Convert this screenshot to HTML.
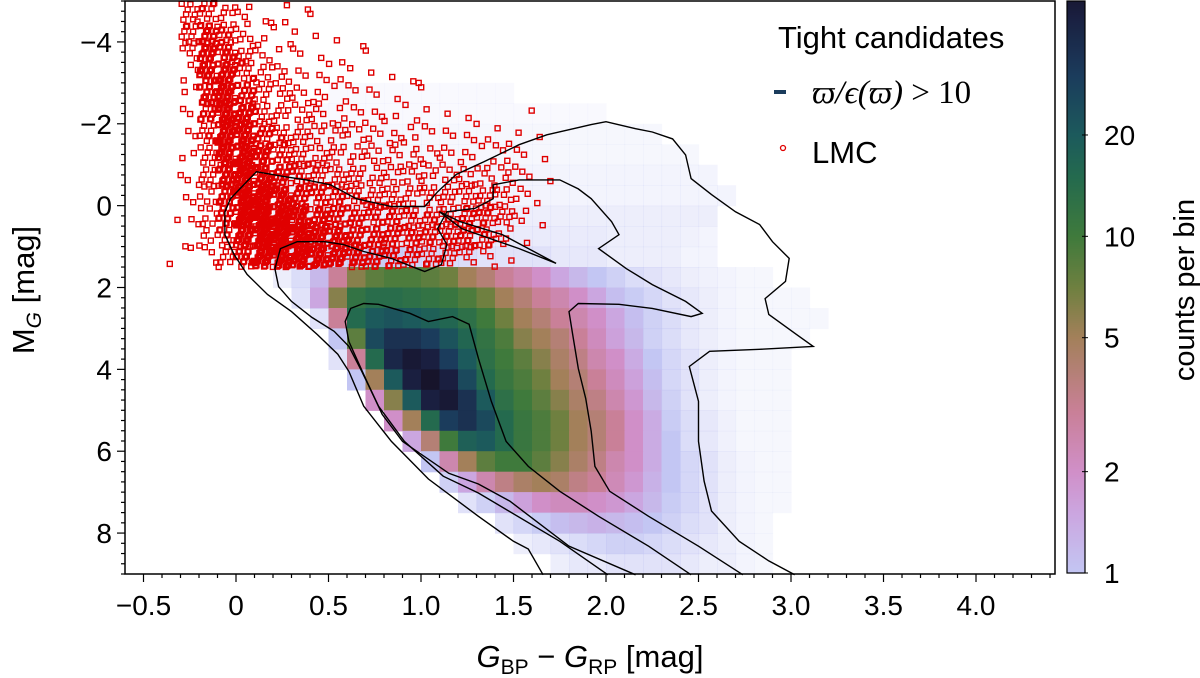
<!DOCTYPE html>
<html><head><meta charset="utf-8"><style>
html,body{margin:0;padding:0;background:#fff;}
svg{display:block;font-family:"Liberation Sans","DejaVu Sans",sans-serif;}
</style></head><body>
<svg id="chart" width="1200" height="678" viewBox="0 0 1200 678" xmlns="http://www.w3.org/2000/svg">
<g id="hess"></g>
<g id="lmc"></g>
<g id="contours" fill="none" stroke="#000" stroke-width="1.4"></g>
<rect x="125" y="1" width="930" height="573" fill="none" stroke="#000" stroke-width="1.5"/>
<g id="axes"></g>
<g id="cbar"></g>
<g>
  <text x="778" y="48" font-size="31">Tight candidates</text>
  <rect x="774" y="90" width="12" height="4" fill="#1b3c5c"/>
  <text x="812" y="103" font-size="33" font-family="Liberation Serif, serif" font-style="italic">ϖ/ϵ(ϖ) <tspan font-style="normal">&gt; 10</tspan></text>
  <circle cx="783" cy="148" r="2.5" fill="none" stroke="#e00000" stroke-width="1.3"/>
  <text x="812" y="163" font-size="31">LMC</text>
</g>
<text x="590" y="667" font-size="31" text-anchor="middle"><tspan font-style="italic">G</tspan><tspan font-size="21" dy="7">BP</tspan><tspan dy="-7"> − </tspan><tspan font-style="italic">G</tspan><tspan font-size="21" dy="7">RP</tspan><tspan dy="-7">  [mag]</tspan></text>
<text transform="translate(34,290) rotate(-90)" font-size="31" text-anchor="middle">M<tspan font-size="21" font-style="italic" dy="7">G</tspan><tspan dy="-7">  [mag]</tspan></text>
<text transform="translate(1194,290) rotate(-90)" font-size="29" text-anchor="middle">counts per bin</text>
</svg>
<script>
// ---- data ----
const colorMin = -0.6, colorMax = 4.427, magTop = -5, magBottom = 9;
const hessBinColor = 0.1, hessBinMag = 0.5;
const hessMagLo = [-3.0,-2.5,-2.0,-1.5,-1.0,-0.5,0.0,0.5,1.0,1.5,2.0,2.5,3.0,3.5,4.0,4.5,5.0,5.5,6.0,6.5,7.0,7.5,8.0,8.5];
const hessColStart = [0.5,0.4,0.3,0.3,0.2,0.2,0.2,0.1,0.1,0.2,0.3,0.4,0.5,0.5,0.6,0.7,0.8,0.9,1.0,1.1,1.2,1.4,1.5,1.7];
const hessCounts = [
 [0.1,0.1,0.1,0.1,0.1,0.1,0.1,0.1,0.1,0.1],
 [0.1,0.1,0.1,0.1,0.1,0.1,0.1,0.1,0.1,0.1,0.1,0.1,0.1,0.1,0.1,0.1],
 [0.15,0.15,0.15,0.15,0.15,0.15,0.15,0.15,0.15,0.15,0.15,0.15,0.15,0.15,0.15,0.15,0.15,0.15,0.15,0.15],
 [0.15,0.15,0.15,0.15,0.15,0.15,0.15,0.15,0.15,0.15,0.15,0.15,0.15,0.15,0.15,0.15,0.15,0.15,0.15,0.15,0.15,0.15],
 [0.2,0.2,0.2,0.2,0.2,0.2,0.2,0.2,0.2,0.2,0.2,0.2,0.2,0.2,0.2,0.2,0.2,0.2,0.2,0.2,0.2,0.2,0.2,0.2],
 [0.2,0.2,0.2,0.2,0.2,0.2,0.2,0.2,0.2,0.2,0.2,0.2,0.2,0.2,0.2,0.2,0.2,0.2,0.2,0.2,0.2,0.2,0.2,0.2,0.2],
 [0.3,0.3,0.3,0.3,0.3,0.3,0.3,0.3,0.3,0.3,0.3,0.3,0.3,0.3,0.3,0.3,0.3,0.3,0.3,0.3,0.3,0.3,0.3,0.3],
 [0.3,0.35,0.35,0.35,0.35,0.35,0.35,0.35,0.35,0.35,0.35,0.35,0.35,0.35,0.35,0.35,0.35,0.35,0.35,0.3,0.3,0.3,0.3,0.25,0.2],
 [0.3,0.4,0.5,0.6,0.7,0.8,0.9,0.9,0.8,0.7,0.6,0.6,0.5,0.5,0.5,0.5,0.4,0.4,0.4,0.3,0.3,0.3,0.3,0.2,0.2],
 [0.3,0.6,1.2,3,6,8,9,9,8,7,5,4,3,2.5,2,1.5,1.2,1,0.8,0.6,0.5,0.4,0.3,0.25,0.2,0.15,0.15],
 [0.5,1.5,6,12,14,14,13,12,11,9,7,5,4,3,2.5,2,1.5,1.1,0.9,0.7,0.5,0.4,0.3,0.2,0.15,0.15,0.15,0.15],
 [0.5,3,15,20,22,20,18,16,13,10,7,5,4,3,2.5,2,1.5,1.1,0.8,0.6,0.4,0.3,0.2,0.15,0.15,0.15,0.15,0.15],
 [1,8,25,35,35,30,22,16,12,9,6,5,4,3,2.2,1.6,1.2,0.8,0.6,0.4,0.3,0.2,0.15,0.15,0.15,0.15],
 [0.5,3,15,40,50,45,30,20,13,10,8,6,4.5,3.5,2.5,2,1.4,1,0.7,0.5,0.3,0.2,0.15,0.15,0.15],
 [1,5,20,45,55,45,25,15,11,9,7,5,4,3,2.2,1.6,1.1,0.7,0.5,0.3,0.2,0.15,0.15,0.15],
 [2,6,20,45,50,35,20,13,10,8,6,4.5,3.5,2.5,1.8,1.2,0.8,0.5,0.3,0.2,0.15,0.15,0.15],
 [2,5,15,30,35,25,15,11,9,7,5,4,3,2,1.4,0.9,0.6,0.4,0.25,0.15,0.15,0.15],
 [1.5,4,10,18,20,15,11,9,7,5,4,3,2,1.4,1,0.6,0.4,0.25,0.15,0.15,0.15],
 [1,2.5,5,8,10,10,8,6,4.5,3.5,2.5,2,1.4,1,0.7,0.5,0.3,0.2,0.15,0.15],
 [0.8,1.5,2.5,3.5,4.5,5,4.5,3.5,3,2.3,1.8,1.3,1,0.7,0.5,0.3,0.2,0.15,0.15],
 [0.5,0.8,1.2,1.6,2,2.2,2.2,2,1.8,1.5,1.2,0.9,0.7,0.5,0.3,0.2,0.15,0.15],
 [0.5,0.7,0.9,1.1,1.2,1.3,1.2,1.1,1,0.8,0.6,0.5,0.3,0.2,0.15],
 [0.3,0.4,0.5,0.6,0.7,0.8,0.8,0.7,0.6,0.5,0.4,0.3,0.2,0.15],
 [0.3,0.4,0.4,0.5,0.5,0.5,0.5,0.4,0.3,0.3,0.2,0.15]
];
const lmcColStart = -0.4;
const lmcMagLo = [-5.0,-4.5,-4.0,-3.5,-3.0,-2.5,-2.0,-1.5,-1.0,-0.5,0.0,0.5,1.0];
const lmcCounts = [
 [0,8,10,6,3,1,1,1,1,0,0,0,0,0,0,0,0,0,0,0,0,0,0],
 [0,10,18,10,5,2,2,1,1,1,0,0,0,0,0,0,0,0,0,0,0,0,0],
 [0,6,22,18,7,4,2,2,1,1,1,1,0,0,0,0,0,0,0,0,0,0,0],
 [0,3,22,25,10,5,4,2,2,2,1,1,1,1,0,0,0,0,0,0,0,0,0],
 [0,2,18,28,16,7,5,4,3,2,2,2,1,1,1,0,0,0,0,0,0,0,0],
 [0,2,14,30,24,9,6,5,4,3,3,2,2,2,1,1,1,0,0,1,0,0,0],
 [0,2,10,30,28,15,9,7,5,5,4,3,3,3,2,2,2,2,2,1,1,0,0],
 [0,2,8,28,32,22,12,9,7,6,5,5,4,4,3,3,3,2,3,2,1,0,0],
 [0,2,8,24,35,28,18,12,10,8,7,6,6,5,5,5,5,5,4,3,1,0,0],
 [0,2,6,20,38,36,28,18,14,12,10,9,8,7,7,7,8,8,6,3,1,0,0],
 [1,2,6,16,38,42,38,30,20,16,14,13,12,10,10,10,13,13,8,3,1,0,0],
 [0,1,4,10,28,40,40,36,28,22,18,16,16,14,13,13,13,11,5,1,0,0,0],
 [1,1,3,8,18,32,36,34,28,24,20,16,14,11,10,8,6,3,1,0,0,0,0]
];
const contourOuterC = [1.66,1.58,1.50,1.31,1.04,0.84,0.69,0.61,0.55,0.44,0.30,0.17,0.06,-0.01,-0.06,-0.06,-0.03,0.11,0.26,0.38,0.51,0.65,0.84,1.02,1.09,1.19,1.34,1.53,1.68,1.92,2.00,2.16,2.25,2.36,2.43,2.46,2.57,2.70,2.83,2.90,2.99,2.97,2.86,2.88,3.03,3.12,2.83,2.56,2.45,2.50,2.50,2.53,2.57,2.72,2.88,3.02];
const contourOuterM = [9.02,8.39,8.20,7.59,6.68,5.76,4.90,4.05,3.63,3.15,2.59,2.17,1.68,1.20,0.71,0.15,-0.17,-0.83,-0.71,-0.63,-0.51,-0.17,0.02,0.02,-0.34,-0.76,-1.07,-1.49,-1.73,-1.98,-2.05,-1.88,-1.80,-1.63,-1.24,-0.66,-0.27,0.15,0.46,0.88,1.29,1.85,2.27,2.66,3.15,3.44,3.51,3.56,3.93,4.78,5.76,6.73,7.46,8.20,8.68,9.02];
const contourMidC = [2.01,1.75,1.31,1.12,0.91,0.77,0.68,0.61,0.53,0.41,0.30,0.23,0.21,0.24,0.33,0.48,0.58,0.69,0.84,0.98,1.02,1.11,1.14,1.09,1.14,1.29,1.39,1.39,1.53,1.75,1.85,1.92,2.03,2.07,1.96,2.11,2.25,2.43,2.52,2.46,2.25,2.07,1.85,1.80,1.82,1.85,1.89,1.92,1.94,2.02,2.23,2.50,2.74];
const contourMidM = [9.02,8.20,7.02,6.61,5.76,4.90,4.05,3.44,3.07,2.73,2.34,1.98,1.54,1.05,0.88,0.88,0.95,1.12,1.29,1.54,1.61,1.44,0.95,0.56,0.15,0.07,-0.17,-0.51,-0.63,-0.63,-0.41,-0.17,0.39,0.71,1.05,1.54,1.93,2.34,2.63,2.71,2.51,2.41,2.39,2.59,3.15,3.98,4.71,5.51,6.37,6.98,7.59,8.32,9.02];
const contourInnerC = [2.16,1.80,1.48,1.31,1.15,0.90,0.79,0.70,0.61,0.59,0.62,0.69,0.77,0.94,1.04,1.17,1.26,1.31,1.38,1.46,1.58,1.75,1.96,2.23,2.46];
const contourInnerM = [9.02,8.32,7.22,6.80,6.54,5.76,5.10,4.22,3.32,2.83,2.51,2.39,2.41,2.63,2.83,2.71,2.90,3.73,4.78,5.76,6.37,6.98,7.59,8.32,9.02];
const loopC = [1.10,1.21,1.44,1.73,1.53,1.22,1.10];
const loopM = [0.15,0.39,0.71,1.41,1.05,0.56,0.15];
const xTicks = [-0.5,0,0.5,1.0,1.5,2.0,2.5,3.0,3.5,4.0];
const xTickLabels = ["−0.5","0","0.5","1.0","1.5","2.0","2.5","3.0","3.5","4.0"];
const yTicks = [-4,-2,0,2,4,6,8];
const yTickLabels = ["−4","−2","0","2","4","6","8"];
const cbarTicks = [1,2,5,10,20];
const cbarTickLabels = ["1","2","5","10","20"];
const cbarMin = 1, cbarMax = 50;
const cmapVals = [1,1.5,2,3,5,7,10,15,20,30,45,60];
const cmapCols = ["#c3c6f3","#cba6e0","#d08fc8","#c98098","#a3805a","#6f8040","#3f7a3c","#246a4e","#1c5a5c","#1b3c5c","#1a1f40","#150f22"];

// ---- scales ----
const NS = "http://www.w3.org/2000/svg";
const PL = 125, PR = 1055, PT = 1, PB = 574;
function X(c){ return PL + (c - colorMin) / (colorMax - colorMin) * (PR - PL); }
function Y(m){ return PT + (m - magTop) / (magBottom - magTop) * (PB - PT); }
function hex(h){ return [parseInt(h.slice(1,3),16),parseInt(h.slice(3,5),16),parseInt(h.slice(5,7),16)]; }
function cmap(v){
  if (v <= cmapVals[0]) return cmapCols[0];
  for (let i=1;i<cmapVals.length;i++){
    if (v <= cmapVals[i]){
      const t = (Math.log(v)-Math.log(cmapVals[i-1]))/(Math.log(cmapVals[i])-Math.log(cmapVals[i-1]));
      const a = hex(cmapCols[i-1]), b = hex(cmapCols[i]);
      return "rgb("+a.map((x,k)=>Math.round(x+(b[k]-x)*t)).join(",")+")";
    }
  }
  return cmapCols[cmapCols.length-1];
}
function mk(tag, parent){ const e = document.createElementNS(NS, tag); parent.appendChild(e); return e; }

// ---- hess cells ----
const hg = document.getElementById("hess");
hessCounts.forEach((row, r) => {
  row.forEach((v, k) => {
    const c0 = hessColStart[r] + k*hessBinColor;
    const m0 = hessMagLo[r];
    const e = mk("rect", hg);
    
    
    const x0 = X(c0), x1 = X(c0+hessBinColor), y0 = Y(m0), y1 = Y(m0+hessBinMag);
    e.setAttribute("x", x0.toFixed(1)); e.setAttribute("y", y0.toFixed(1));
    e.setAttribute("width", (x1-x0+0.6).toFixed(1)); e.setAttribute("height", (y1-y0+0.6).toFixed(1));
    e.setAttribute("fill", cmap(Math.max(v,1)));
    if (v < 1) e.setAttribute("fill-opacity", v.toFixed(2));
  });
});

// ---- LMC points ----
const lg = document.getElementById("lmc");
function frac(x){ return x - Math.floor(x); }
lmcCounts.forEach((row, r) => {
  row.forEach((n, k) => {
    const c0 = lmcColStart + k*0.1, m0 = lmcMagLo[r];
    for (let i=0;i<n;i++){
      const fx = frac(0.31 + (i+1)*0.6180339 + k*0.137 + r*0.291);
      const fy = frac(0.17 + (i+1)*0.7548776 + k*0.213 + r*0.077);
      const px = X(c0 + fx*0.1), py = Y(m0 + fy*0.5);
      if (px < PL+2 || py < PT+2) continue;
      const e = mk("rect", lg);
      
      
      e.setAttribute("x", (px-2.5).toFixed(1)); e.setAttribute("y", (py-2.5).toFixed(1));
      e.setAttribute("width", "5"); e.setAttribute("height", "5");
      e.setAttribute("fill", "none"); e.setAttribute("stroke", "#e00000"); e.setAttribute("stroke-width", "1.4");
    }
  });
});

// ---- contours ----
const cg = document.getElementById("contours");
function contour(cs, ms, name){
  const e = mk("polyline", cg);
  
  
  e.setAttribute("points", cs.map((c,i)=>X(c).toFixed(1)+","+Y(ms[i]).toFixed(1)).join(" "));
}
contour(contourOuterC, contourOuterM, "contour-outer");
contour(contourMidC, contourMidM, "contour-middle");
contour(contourInnerC, contourInnerM, "contour-inner");
contour(loopC, loopM, "contour-red-clump-loop");

// ---- axes ----
const ag = document.getElementById("axes");
for (let t=-5; t<=44; t++){
  const c = t/10; const x = X(c); if (x < PL || x > PR) continue;
  const major = (t % 5 === 0);
  const e = mk("line", ag);
  
  
  e.setAttribute("x1", x); e.setAttribute("x2", x); e.setAttribute("y1", PB); e.setAttribute("y2", PB + (major?8:4));
  e.setAttribute("stroke", "#000"); e.setAttribute("stroke-width", "1.2");
}
xTicks.forEach((c,i)=>{
  const e = mk("text", ag);
  
  
  e.setAttribute("x", X(c)); e.setAttribute("y", 615); e.setAttribute("font-size", "28"); e.setAttribute("text-anchor", "middle");
  e.textContent = xTickLabels[i];
});
for (let t=-20; t<=36; t++){
  const m = t/4; const y = Y(m); if (y < PT || y > PB) continue;
  const major = (t % 8 === 0);
  const e = mk("line", ag);
  
  
  e.setAttribute("x1", PL - (major?8:4)); e.setAttribute("x2", PL); e.setAttribute("y1", y); e.setAttribute("y2", y);
  e.setAttribute("stroke", "#000"); e.setAttribute("stroke-width", "1.2");
}
yTicks.forEach((m,i)=>{
  const e = mk("text", ag);
  
  
  e.setAttribute("x", 112); e.setAttribute("y", Y(m)+10); e.setAttribute("font-size", "28"); e.setAttribute("text-anchor", "end");
  e.textContent = yTickLabels[i];
});

// ---- colorbar ----
const bg = document.getElementById("cbar");
const CX = 1067, CW = 18, CT = 1, CB = 573;
function CY(v){ return CB - (Math.log(v)-Math.log(cbarMin))/(Math.log(cbarMax)-Math.log(cbarMin))*(CB-CT); }
for (let y=CT; y<CB; y+=2){
  const v = Math.exp(Math.log(cbarMin) + (CB-y-1)/(CB-CT)*(Math.log(cbarMax)-Math.log(cbarMin)));
  const e = mk("rect", bg);
  
  
  e.setAttribute("x", CX); e.setAttribute("y", y); e.setAttribute("width", CW); e.setAttribute("height", 2.5);
  e.setAttribute("fill", cmap(v));
}
const fr = mk("rect", bg);


fr.setAttribute("x", CX); fr.setAttribute("y", CT); fr.setAttribute("width", CW); fr.setAttribute("height", CB-CT);
fr.setAttribute("fill", "none"); fr.setAttribute("stroke", "#000"); fr.setAttribute("stroke-width", "1.2");
cbarTicks.forEach((v,i)=>{
  const y = CY(v);
  const t = mk("line", bg);
  
  
  t.setAttribute("x1", CX+CW-3); t.setAttribute("x2", CX+CW+3); t.setAttribute("y1", y); t.setAttribute("y2", y);
  t.setAttribute("stroke", "#000");
  const e = mk("text", bg);
  
  
  e.setAttribute("x", 1104); e.setAttribute("y", y+10); e.setAttribute("font-size", "28");
  e.textContent = cbarTickLabels[i];
});
</script>
</body></html>
